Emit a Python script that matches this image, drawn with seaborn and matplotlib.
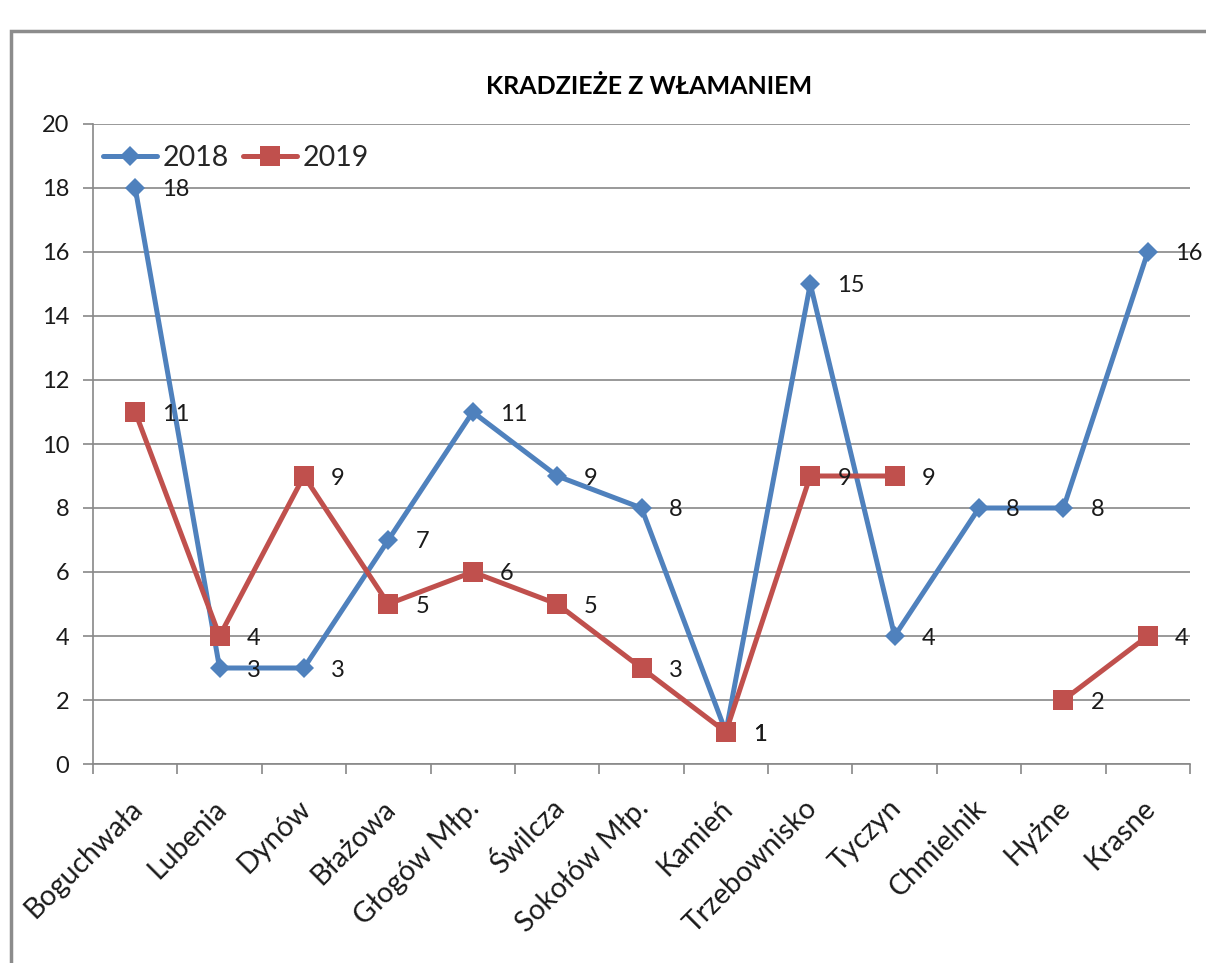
import numpy as np
import pandas as pd
import matplotlib
matplotlib.use("Agg")
import matplotlib.pyplot as plt
import matplotlib.transforms as mtransforms
import seaborn as sns
from matplotlib.lines import Line2D
from matplotlib.patches import Rectangle

gminy = ["Boguchwała", "Lubenia", "Dynów", "Błażowa", "Głogów Młp.", "Świlcza",
         "Sokołów Młp.", "Kamień", "Trzebownisko", "Tyczyn", "Chmielnik", "Hyżne", "Krasne"]
wart_2018 = [18, 3, 3, 7, 11, 9, 8, 1, 15, 4, 8, 8, 16]
wart_2019 = [11, 4, 9, 5, 6, 5, 3, 1, 9, 9, np.nan, 2, 4]
lata = ["2018", "2019"]
tytul = "KRADZIEŻE Z WŁAMANIEM"
y_ticks = list(range(0, 21, 2))

BLUE = "#4F81BD"
RED = "#C0504D"
GREY = "#888888"

sns.set_theme(style="white")
plt.rcParams["font.family"] = ["Lato", "DejaVu Sans"]


def to_long(values, year):
    rows = []
    seg = 0
    for i, v in enumerate(values):
        if pd.isna(v):
            seg += 1  # break the line where there is no value
            continue
        rows.append({"pos": i, "gmina": gminy[i], "rok": year, "wartosc": v, "seg": seg})
    return pd.DataFrame(rows)


df18 = to_long(wart_2018, lata[0])
df19 = to_long(wart_2019, lata[1])

fig = plt.figure(figsize=(12.06, 9.63), dpi=100)
ax = fig.add_axes([93 / 1206, 1 - 764 / 963, (1190 - 93) / 1206, (764 - 124) / 963])

series = [
    (df18, BLUE, "D", 10.5),
    (df19, RED, "s", 14),
]
for d, col, mk, ms in series:
    sns.lineplot(data=d, x="pos", y="wartosc", units="seg", estimator=None,
                 color=col, linewidth=3.6, marker=mk, markersize=ms,
                 markeredgewidth=0, ax=ax, legend=False)
    for _, r in d.iterrows():
        ax.annotate(f"{int(r['wartosc'])}", (r["pos"], r["wartosc"]),
                    xytext=(27, -2), textcoords="offset pixels",
                    ha="left", va="center", fontsize=17, color="#1a1a1a")

ax.set_xlim(-0.5, len(gminy) - 0.5)
ax.set_ylim(0, 20)
ax.set_yticks(y_ticks)
ax.set_yticklabels([str(t) for t in y_ticks], fontsize=17)
ax.set_xticks(range(len(gminy)))
ax.set_xticklabels(gminy, rotation=45, ha="right", va="center",
                   rotation_mode="anchor", fontsize=20.5)
ax.set_xticks(np.arange(-0.5, len(gminy), 1), minor=True)

ax.set_xlabel("")
ax.set_ylabel("")
ax.yaxis.grid(True, color=GREY, linewidth=1.2)
ax.xaxis.grid(False)
ax.set_axisbelow(True)
for side in ["top", "right"]:
    ax.spines[side].set_visible(False)
for side in ["left", "bottom"]:
    ax.spines[side].set_color(GREY)
    ax.spines[side].set_linewidth(1.2)

ax.tick_params(axis="y", which="major", left=True, length=7, width=1.2,
               color=GREY, pad=10, labelcolor="#1a1a1a")
ax.tick_params(axis="x", which="major", bottom=False, length=0, pad=29,
               labelcolor="#1a1a1a")
ax.tick_params(axis="x", which="minor", bottom=True, length=7, width=1.2, color=GREY)

offset = mtransforms.ScaledTranslation(3 / 100, 0, fig.dpi_scale_trans)
for lab in ax.get_xticklabels():
    lab.set_transform(lab.get_transform() + offset)

handles = [
    Line2D([], [], color=BLUE, linewidth=3.6, marker="D", markersize=10.5, markeredgewidth=0),
    Line2D([], [], color=RED, linewidth=3.6, marker="s", markersize=14, markeredgewidth=0),
]
fig.legend(handles, lata, loc="center left", bbox_to_anchor=(103 / 1206, 1 - 158 / 963),
           ncol=2, frameon=False, fontsize=20.5, handlelength=1.9, handletextpad=0.2,
           columnspacing=0.5, borderpad=0, borderaxespad=0)

fig.text(649 / 1206, 1 - 87 / 963, tytul, ha="center", va="center",
         fontsize=18, fontweight="bold", color="#000000")

# outer chart frame
fig.patches.append(Rectangle((11 / 1206, -0.1), 1.2, 1 - 31 / 963 + 0.1,
                             transform=fig.transFigure, fill=False,
                             edgecolor="#8c8c8c", linewidth=2.5, zorder=0))

fig.savefig("out.png", dpi=100)
